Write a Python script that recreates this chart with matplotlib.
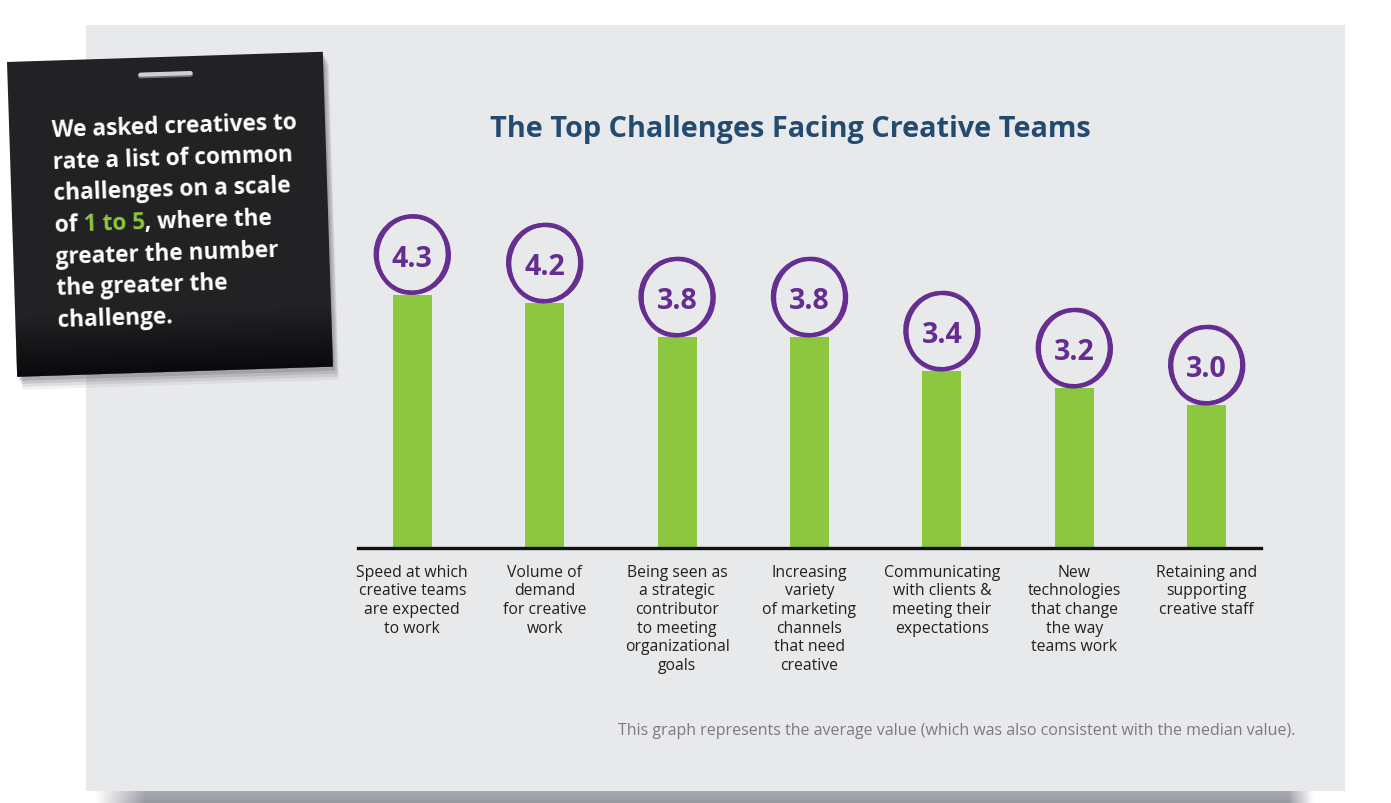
import numpy as np
import matplotlib
matplotlib.use("Agg")
import matplotlib.pyplot as plt
from matplotlib.patches import Rectangle, Polygon, Ellipse
from matplotlib.transforms import ScaledTranslation

plt.rcParams["font.family"] = ["Open Sans", "DejaVu Sans"]

# data
challenges = [
    "Speed at which\ncreative teams\nare expected\nto work",
    "Volume of\ndemand\nfor creative\nwork",
    "Being seen as\na strategic\ncontributor\nto meeting\norganizational\ngoals",
    "Increasing\nvariety\nof marketing\nchannels\nthat need\ncreative",
    "Communicating\nwith clients &\nmeeting their\nexpectations",
    "New\ntechnologies\nthat change\nthe way\nteams work",
    "Retaining and\nsupporting\ncreative staff",
]
scores = [4.3, 4.2, 3.8, 3.8, 3.4, 3.2, 3.0]
title = "The Top Challenges Facing Creative Teams"
footnote = "This graph represents the average value (which was also consistent with the median value)."
note_lines = ["We asked creatives to", "rate a list of common", "challenges on a scale",
              None, "greater the number", "the greater the", "challenge."]
note_mixed = ["of ", "1 to 5", ", where the"]

GREEN = "#8dc63f"
PURPLE = "#662d91"
NAVY = "#234a6f"
CARD = "#e8e9eb"
W, H = 1391, 804

fig = plt.figure(figsize=(W / 100, H / 100), dpi=100)
fig.patch.set_facecolor("white")

# background layer in pixel coords (y down)
bg = fig.add_axes([0, 0, 1, 1], zorder=0)
bg.set_xlim(0, W)
bg.set_ylim(H, 0)
bg.axis("off")

# card + bottom shadow
bg.add_patch(Rectangle((86, 26), 1259, 766, fc=CARD, ec="none", zorder=1))
sx = np.arange(90, 1330)
alpha = np.clip((sx - 95) / 50.0, 0, 1) * np.clip((1313 - sx) / 25.0, 0, 1)
sh = np.zeros((12, len(sx), 4))
sh[..., :3] = (0.6, 0.6, 0.64)
sh[..., 3] = alpha[None, :] * np.linspace(0.85, 1.0, 12)[:, None]
bg.imshow(sh, extent=(90, 1330, 804, 792), aspect="auto", zorder=0.5, interpolation="bilinear")

# black note, rotated slightly
th = np.deg2rad(1.85)
ux = np.array([np.cos(th), -np.sin(th)])
uy = np.array([np.sin(th), np.cos(th)])
p0 = np.array([7.0, 63.0])
corners = [p0, p0 + 316 * ux, p0 + 316 * ux + 315 * uy, p0 + 315 * uy]
for dx, dy, a in [(6, 13, 0.08), (5, 10, 0.12), (4, 7, 0.16), (2, 4, 0.22)]:
    bg.add_patch(Polygon([c + (dx, dy) for c in corners], fc="#55555f", ec="none",
                         alpha=a, zorder=2))
bg.add_patch(Polygon(corners, fc="#222124", ec="none", zorder=3))
# soft darkening toward the bottom
for k in range(24):
    t0 = 255 + k * 2.5
    band = [p0 + t0 * uy, p0 + 316 * ux + t0 * uy, p0 + 316 * ux + 315 * uy, p0 + 315 * uy]
    bg.add_patch(Polygon(band, fc="black", ec="none", alpha=0.025, zorder=3.1))
# staple
s0 = p0 + 133 * ux + 17 * uy
s1 = p0 + 183 * ux + 17 * uy
bg.plot([s0[0], s1[0]], [s0[1] + 1, s1[1] + 1], color="#6e6e70", lw=4, solid_capstyle="round", zorder=4)
bg.plot([s0[0], s1[0]], [s0[1], s1[1]], color="#d0d0d2", lw=3, solid_capstyle="round", zorder=4.1)

renderer = fig.canvas.get_renderer()
NOTE_FS = 16.3
note_kw = dict(fontsize=NOTE_FS, fontweight="bold", ha="left", va="baseline",
               rotation=np.rad2deg(th), rotation_mode="anchor", zorder=5)


def text_width(s):
    t = bg.text(0, 0, s, fontsize=NOTE_FS, fontweight="bold")
    w = t.get_window_extent(renderer).width
    t.remove()
    return w


start = np.array([52.0, 137.0])
for i, line in enumerate(note_lines):
    pos = start + i * 31.7 * uy
    if line is not None:
        bg.text(pos[0], pos[1], line, color="white", **note_kw)
    else:
        full = "".join(note_mixed)
        offs = [0.0,
                text_width("".join(note_mixed[:2])) - text_width(note_mixed[1]),
                text_width(full) - text_width(note_mixed[2])]
        cols = ["white", GREEN, "white"]
        for seg, off, c in zip(note_mixed, offs, cols):
            p = pos + off * ux
            bg.text(p[0], p[1], seg, color=c, **note_kw)

# title and footnote
bg.text(790, 137, title, ha="center", va="baseline", fontsize=20.8, fontweight="bold",
        color=NAVY, zorder=5)
bg.text(1295, 735, footnote, ha="right", va="baseline", fontsize=11.5, color="#7b7b7e", zorder=5)

# chart
ax = fig.add_axes([358 / W, 1 - 549 / H, (1261 - 358) / W, (549 - 236) / H], zorder=2)
ax.set_facecolor("none")
xpos = np.arange(len(scores))
ax.bar(xpos, scores, width=0.294, color=GREEN, zorder=2)
ax.set_xlim(-0.41, 6.41)
ax.set_ylim(1.32, 5.0)
for s in ["top", "left", "right"]:
    ax.spines[s].set_visible(False)
ax.spines["bottom"].set_linewidth(2.4)
ax.spines["bottom"].set_color("#111111")
ax.spines["bottom"].set_zorder(3)
ax.set_yticks([])
ax.set_xticks(xpos)
ax.set_xticklabels(challenges, fontsize=11.3, color="#231f20", linespacing=1.21)
ax.tick_params(axis="x", length=0, pad=11.5)

# hand-drawn rings with values
strokes = [(70, 76, 0, 1.6), (74, 79, 10, 1.1), (68, 74, -8, 1.0), (76, 78, 20, 0.9),
           (72, 80, -15, 0.9), (73, 73, 30, 0.8), (69, 78, 5, 0.8), (75, 75, -25, 0.7)]
for xi, v in zip(xpos, scores):
    tr = ScaledTranslation(xi, v, ax.transData)
    for w, h, ang, lw in strokes:
        ax.add_patch(Ellipse((0, 40), w, h, angle=ang, fill=False, ec=PURPLE, lw=lw,
                             transform=tr, clip_on=False, zorder=4))
    ax.annotate(f"{v:.1f}", (xi, v), xytext=(0, 29), textcoords="offset pixels",
                ha="center", va="baseline", fontsize=20.5, fontweight="bold",
                color=PURPLE, zorder=5, annotation_clip=False)

fig.savefig("out.png", dpi=100, facecolor="white")
